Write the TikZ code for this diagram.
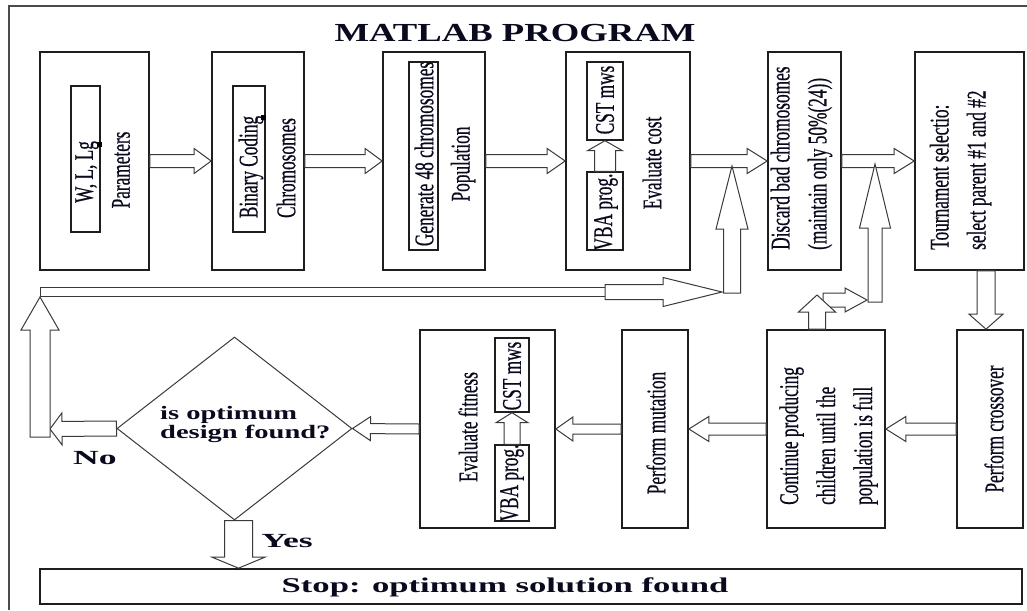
\documentclass[tikz,border=0pt]{standalone}
\usepackage{fontspec}
\setmainfont{Liberation Serif}
\newfontfamily\vfont[FakeStretch=0.64,FakeBold=0.5]{Liberation Serif}
\newfontfamily\titlefont[FakeStretch=1.41]{Liberation Serif}
\newfontfamily\diafont[FakeStretch=1.5]{Liberation Serif}
\newfontfamily\ynfont[FakeStretch=1.78]{Liberation Serif}
\newfontfamily\stopfont[FakeStretch=1.65]{Liberation Serif}
\usetikzlibrary{calc,shapes.geometric}
\definecolor{boxc}{HTML}{1E1E1E}
\definecolor{arrc}{HTML}{3A3A3A}
\definecolor{txt}{HTML}{0A0A1E}
\tikzset{
  frame/.style={draw=boxc!80, line width=2pt},
  box/.style={draw=boxc, line width=1.7pt, fill=white, inner sep=0pt, rectangle},
  ibox/.style={draw=boxc, line width=1.4pt, fill=white, inner sep=0pt, rectangle},
  handle/.style={fill=black, inner sep=0pt, minimum size=5pt, rectangle},
  vtext/.style={rotate=90, inner sep=0pt, align=left, text=txt, font=\vfont\fontsize{27}{37}\selectfont},
  title/.style={inner sep=0pt, text=txt, font=\titlefont\bfseries\fontsize{26}{30}\selectfont},
  diat/.style={inner sep=0pt, align=left, text=txt, font=\diafont\bfseries\fontsize{19}{19}\selectfont},
  ynt/.style={inner sep=0pt, text=txt, font=\ynfont\bfseries\fontsize{20}{24}\selectfont},
  stopt/.style={inner sep=0pt, text=txt, font=\stopfont\bfseries\fontsize{21}{25}\selectfont},
  dia/.style={diamond, draw=arrc, line width=1pt, inner sep=0pt, minimum width=235pt, minimum height=183pt},
  arr/.style={draw=arrc, line width=1pt, fill=white, line join=miter},
}
% hollow block arrow: start, end, shaft half width, head half width, head length
\newcommand\barrow[5]{%
  \path[arr] let \p1=(#1), \p2=(#2), \p3=($(\p2)!#5!(\p1)$) in
    ($(\p1)!#3!90:(\p2)$) -- ($(\p3)!#3!90:(\p2)$) -- ($(\p3)!#4!90:(\p2)$) -- (\p2)
    -- ($(\p3)!#4!-90:(\p2)$) -- ($(\p3)!#3!-90:(\p2)$) -- ($(\p1)!#3!-90:(\p2)$) -- cycle;
}
\begin{document}
\begin{tikzpicture}[x=1pt,y=-1pt]
\useasboundingbox (0,0) rectangle (1027,610);
\draw[frame] (9,610) -- (9,6) -- (1027,6);

\node[title] (title) at (515,33) {MATLAB PROGRAM};

% ---------- top row ----------
\node[box, minimum width=109pt, minimum height=218pt] (b1) at (94.5,161) {};
\node[ibox, minimum width=29pt, minimum height=146pt] (in1) at (85.5,159) {};
\node[vtext] (t1a) at (87,172) {W, L, Lg};
\node[handle] (h1) at (99,144) {};
\node[vtext] (t1b) at (121,170) {Parameters};

\node[box, minimum width=92pt, minimum height=218pt] (b2) at (258,161) {};
\node[ibox, minimum width=32pt, minimum height=146pt] (in2) at (249,159) {};
\node[vtext] (t2a) at (251,167) {Binary Coding};
\node[handle] (h2) at (263,117) {};
\node[vtext] (t2b) at (286,168) {Chromosomes};

\node[box, minimum width=102pt, minimum height=218pt] (b3) at (434,161) {};
\node[ibox, minimum width=29pt, minimum height=188pt] (in3) at (423.5,156) {};
\node[vtext] (t3a) at (424,154) {Generate 48 chromosomes};
\node[vtext] (t3b) at (463,164) {Population};

\node[box, minimum width=124pt, minimum height=218pt] (b4) at (628,161) {};
\node[ibox, minimum width=36pt, minimum height=78pt] (cst1) at (605,101) {};
\node[ibox, minimum width=36pt, minimum height=78pt] (vba1) at (605,211) {};
\node[vtext] (t4a) at (605,100) {CST mws};
\node[vtext] (t4b) at (606,212) {VBA prog.};
\node[vtext] (t4c) at (652,163) {Evaluate cost};

\node[box, minimum width=73pt, minimum height=218pt] (b5) at (804.5,161) {};
\node[vtext, anchor=west] (t5) at (801.5,250) {Discard bad chromosomes\\(maintain only 50\%(24))};

\node[box, minimum width=109pt, minimum height=218pt] (b6) at (969.5,161) {};
\node[vtext, anchor=west] (t6) at (960.5,250) {Tournament selectio:\\select parent \#1 and \#2};

% ---------- bottom row ----------
\node[box, minimum width=66pt, minimum height=198pt] (cross) at (990,429) {};
\node[vtext] (tc) at (994,429) {Perform crossover};

\node[box, minimum width=118pt, minimum height=198pt] (cont) at (826,429) {};
\node[vtext, anchor=west] (tp) at (828.5,505) {Continue producing\\children until the\\population is full};

\node[box, minimum width=66pt, minimum height=198pt] (mut) at (655,429) {};
\node[vtext] (tm) at (656,433) {Perform mutation};

\node[box, minimum width=135pt, minimum height=198pt] (fit) at (487.5,429) {};
\node[ibox, minimum width=34pt, minimum height=74pt] (cst2) at (512,375) {};
\node[ibox, minimum width=34pt, minimum height=76pt] (vba2) at (512,483) {};
\node[vtext] (tf) at (468,427) {Evaluate fitness};
\node[vtext] (tf1) at (512,376) {CST mws};
\node[vtext] (tf2) at (512,483) {VBA prog.};

\node[dia] (dia) at (234.5,428.5) {};
\node[diat, anchor=west] (tdia) at (160,424) {is optimum\\design found?};

\node[box, minimum width=982pt, minimum height=35pt] (stop) at (531,586.5) {};
\node[stopt] (tstop) at (505,587) {Stop: optimum solution found};

\node[ynt] (no) at (95,458) {No};
\node[ynt] (yes) at (287,541) {Yes};

% ---------- named free ends ----------
\coordinate (noend) at (50,429);
\coordinate (upbot) at (40,437);
\coordinate (uptop) at (40,297);
\coordinate (loopL) at (40,291.5);
\coordinate (loopM) at (605,292);
\coordinate (loopR) at (722,292);
\coordinate (ua1b) at (732,293);
\coordinate (ua1t) at (732,166);
\coordinate (ua2b) at (875,302);
\coordinate (ua2t) at (875,164);
\coordinate (sub) at ($(cont.north)+(-9,0)$);
\coordinate (sut) at (817,295);
\coordinate (srb) at (823,300);
\coordinate (srt) at (867,300);
\coordinate (dn) at ($(b6.south)+(16.5,0)$);
\coordinate (ys) at ($(dia.south)+(4,0)$);

% ---------- connectors ----------
\barrow{b1.east}{b2.west}{6.5pt}{12.5pt}{17pt}
\barrow{b2.east}{b3.west}{6.5pt}{12.5pt}{17pt}
\barrow{b3.east}{b4.west}{6.5pt}{12.5pt}{18pt}
\barrow{b4.east}{b5.west}{6.5pt}{12.5pt}{20pt}
\barrow{b5.east}{b6.west}{6.5pt}{12.5pt}{20pt}
\barrow{dn}{dn |- cross.north}{9pt}{17pt}{15pt}
\barrow{cross.west}{cont.east}{6pt}{12.5pt}{20pt}
\barrow{cont.west}{mut.east}{6pt}{12.5pt}{20pt}
\barrow{mut.west}{fit.east}{5pt}{12pt}{17pt}
\barrow{fit.west}{dia.east}{5pt}{12pt}{18pt}
\barrow{vba1.north}{cst1.south}{10.5pt}{17.5pt}{10pt}
\barrow{vba2.north}{cst2.south}{8pt}{16pt}{10pt}
\barrow{dia.west}{noend}{7.5pt}{16pt}{12pt}
\barrow{upbot}{uptop}{10pt}{19pt}{33pt}
\path[arr] ($(loopL)+(0,-4.5)$) rectangle ($(loopM)+(0,4.5)$);
\barrow{loopM}{loopR}{7.5pt}{14.5pt}{59pt}
\barrow{ua1b}{ua1t}{8.5pt}{16pt}{63pt}
\barrow{ua2b}{ua2t}{7pt}{15.5pt}{64pt}
\barrow{srb}{srt}{7pt}{12pt}{22pt}
\barrow{sub}{sut}{8.5pt}{18.5pt}{17pt}
\barrow{ys}{ys |- stop.north}{14pt}{26.5pt}{11pt}
\end{tikzpicture}
\end{document}
